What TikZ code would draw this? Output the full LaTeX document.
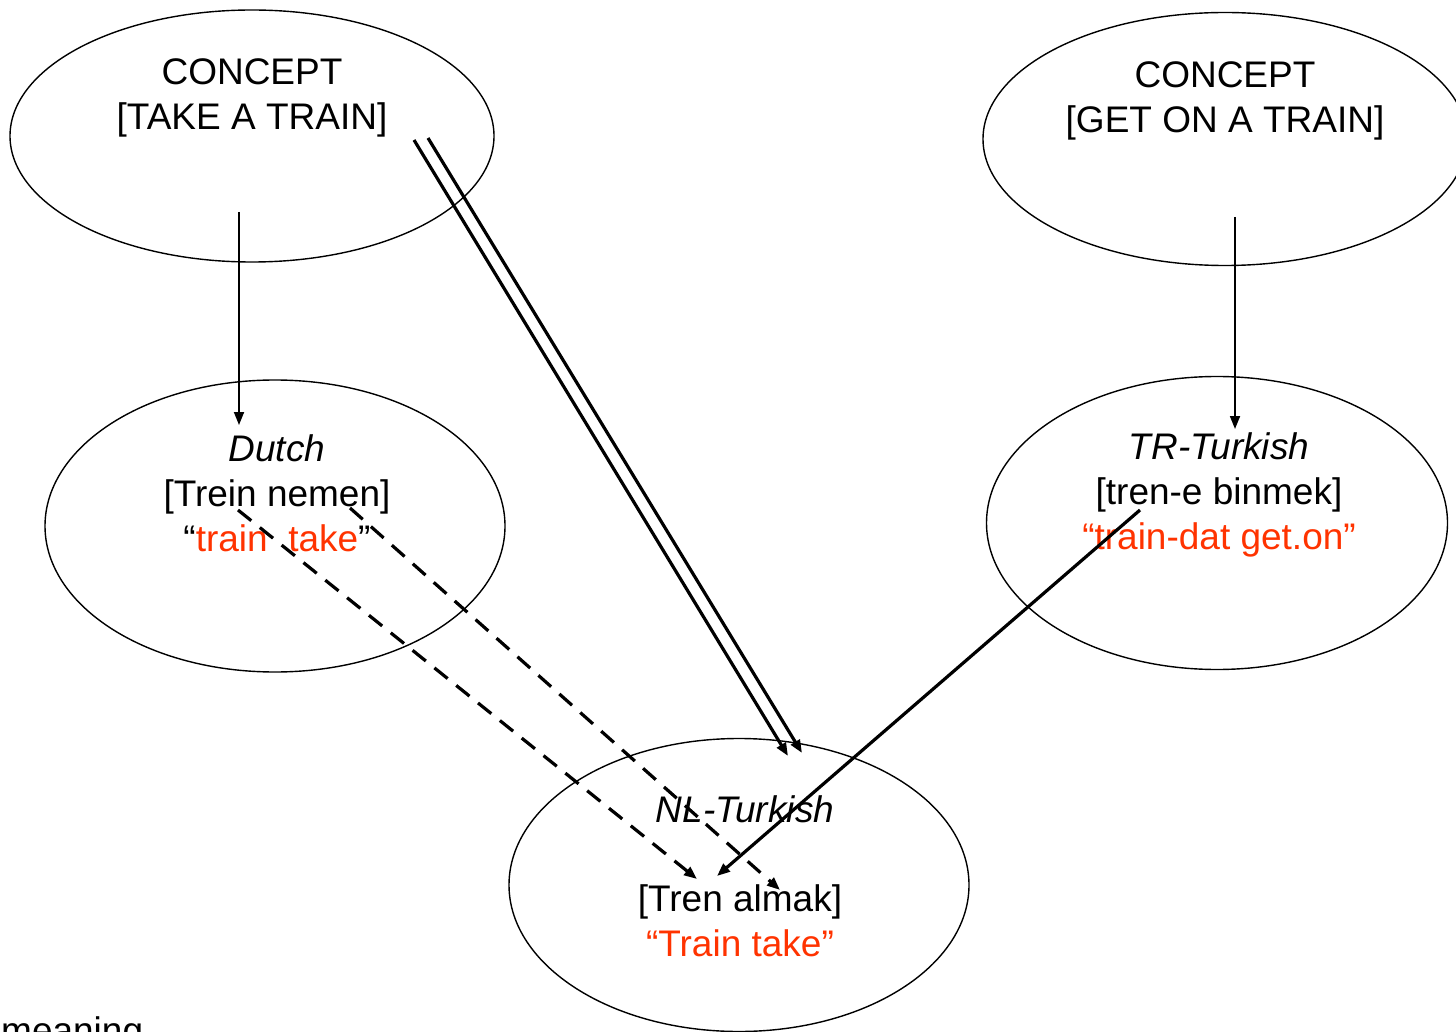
\documentclass[tikz,border=0pt]{standalone}
\usepackage{fontspec}
\setmainfont{Liberation Sans}
\usetikzlibrary{shapes.geometric,arrows.meta}
\definecolor{redt}{RGB}{255,51,0}
\begin{document}
\begin{tikzpicture}[x=1pt,y=-1pt,
  ell/.style={draw, ellipse, line width=1.4pt, inner sep=0pt},
  txt/.style={font=\fontsize{37}{45}\selectfont, align=center, inner sep=0pt},
  tip/.style={-{Triangle[length=13pt,width=10pt]}},
  thin arrow/.style={tip, line width=1.8pt},
  thick arrow/.style={tip, line width=3.2pt},
  dash arrow/.style={tip, line width=3.2pt, dash pattern=on 17pt off 11pt}]
\useasboundingbox (0,0) rectangle (1456,1032);

% ellipses
\node[ell, minimum width=484pt, minimum height=252pt] (c1) at (252,136) {};
\node[ell, minimum width=484pt, minimum height=253pt] (c2) at (1225,139) {};
\node[ell, minimum width=460pt, minimum height=292pt] (du) at (275,526) {};
\node[ell, minimum width=461pt, minimum height=293pt] (tr) at (1217,523) {};
\node[ell, minimum width=460pt, minimum height=293pt] (nl) at (739,885) {};

% texts
\node[txt] (t1) at (252,98) {CONCEPT\\[0pt][TAKE A TRAIN]};
\node[txt] (t2) at (1225,101) {CONCEPT\\[0pt][GET ON A TRAIN]};
\node[txt] (t3) at (277,493) {\itshape Dutch\\[0pt][Trein nemen]\\[0pt]“\textcolor{redt}{train\ \ take}”};
\node[txt] (t4) at (1219,495) {\itshape TR-Turkish\\[0pt][tren-e binmek]\\[0pt]\textcolor{redt}{“train-dat get.on”}};
\node[txt, font=\fontsize{37}{45}\selectfont\itshape] (t5) at (745,809) {NL-Turkish};
\node[txt] (t6) at (740,921) {[Tren almak]\\[0pt]\textcolor{redt}{“Train take”}};
\node[txt, anchor=base west] (t7) at (1,1043) {meaning};

% connector end points
\coordinate (a1s) at (239,212);  \coordinate (a1e) at (239,425);
\coordinate (a2s) at (1235,217); \coordinate (a2e) at (1235,429);
\coordinate (d1s) at (414,140);  \coordinate (d1e) at (788,756);
\coordinate (d2s) at (428,138);  \coordinate (d2e) at (802,753);
\coordinate (s1s) at (1140,510); \coordinate (s1e) at (717,876);
\coordinate (k1s) at (238,510);  \coordinate (k1e) at (697,879);
\coordinate (k2s) at (350,508);  \coordinate (k2e) at (780,890);

% connectors
\draw[thin arrow] (a1s) -- (a1e);
\draw[thin arrow] (a2s) -- (a2e);
\draw[thick arrow] (d1s) -- (d1e);
\draw[thick arrow] (d2s) -- (d2e);
\draw[thick arrow] (s1s) -- (s1e);
\draw[dash arrow] (k1s) -- (k1e);
\draw[dash arrow] (k2s) -- (k2e);
\end{tikzpicture}
\end{document}
